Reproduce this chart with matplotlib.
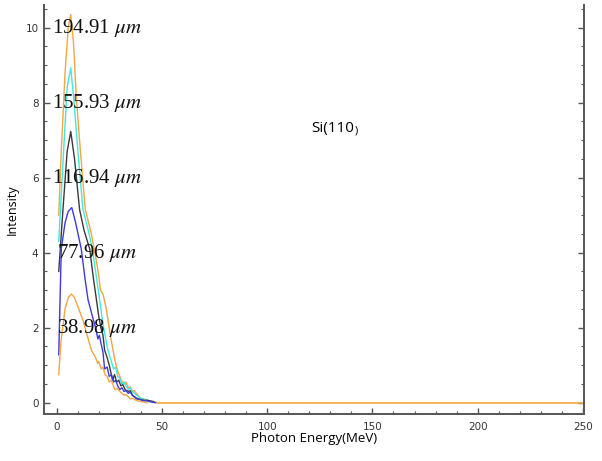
import matplotlib
matplotlib.use("Agg")
import matplotlib.pyplot as plt
from matplotlib.ticker import MultipleLocator

plt.rcParams["mathtext.fontset"] = "stix"

# thickness labels and curves
labels = ["194.91", "155.93", "116.94", "77.96", "38.98"]
label_x = [-2.4, -2.4, -2.4, 0.0, 0.0]
label_y = [10.0, 8.0, 6.0, 4.0, 2.0]
colors = ["#f5a542", "#40e8e0", "#3a3a3a", "#3b3be0", "#f5a542"]

x_194 = [1, 2.2, 4, 5.5, 6.7, 8, 9.4, 11.3, 13.6, 16.5, 18.5, 20, 20.8, 22, 23.6, 25.5, 27.6, 29, 30.7,
         32, 33, 34, 35, 36, 37, 38.5, 40, 41.5, 43, 46, 48]
y_194 = [5.0, 6.7, 8.8, 10.0, 10.35, 9.6, 8.1, 6.7, 5.15, 4.5, 3.9, 3.4, 3.0, 2.9, 2.5, 1.8, 1.15, 0.85, 0.6,
         0.5, 0.55, 0.4, 0.42, 0.3, 0.32, 0.2, 0.12, 0.1, 0.06, 0.03, 0.0]

x_155 = [1, 3.3, 5, 6.7, 8.3, 10.1, 12.5, 15, 17, 19, 20.4, 22, 24.3, 26, 27, 28, 29, 30, 31, 32, 33, 34,
         35, 36, 38, 40, 41, 43, 44, 46]
y_155 = [4.3, 6.7, 8.4, 8.93, 8.0, 6.7, 5.15, 4.6, 4.1, 3.3, 2.75, 2.1, 1.4, 1.1, 0.9, 0.95, 0.7, 0.65, 0.5,
         0.55, 0.45, 0.35, 0.4, 0.3, 0.2, 0.12, 0.1, 0.06, 0.05, 0.02]

x_116 = [1, 3, 5, 6.7, 8.5, 10.9, 13, 15.7, 17.5, 18.9, 20, 21, 22, 22.8, 24, 25, 26.6, 27.5, 28.5, 29.5,
         30.5, 31.5, 32.5, 34, 35, 36, 38, 39, 40, 42, 43, 45, 46]
y_116 = [3.5, 5.15, 6.7, 7.23, 6.5, 5.15, 4.6, 4.1, 3.3, 2.75, 2.3, 2.0, 1.8, 1.4, 1.2, 1.0, 0.6, 0.75, 0.55,
         0.6, 0.45, 0.48, 0.35, 0.3, 0.32, 0.2, 0.12, 0.1, 0.08, 0.06, 0.07, 0.04, 0.03]

x_77 = [1, 2.2, 4, 5.5, 7.2, 9, 11.7, 13.5, 14.9, 17, 18.5, 19.6, 20.3, 21, 22, 22.8, 24, 25, 26, 27, 28,
        29, 30, 31, 32, 33, 34, 35, 36, 38, 40, 41, 43, 44, 47]
y_77 = [1.28, 4.1, 4.8, 5.1, 5.2, 4.8, 4.1, 3.3, 2.75, 2.3, 2.0, 1.7, 1.8, 1.6, 1.35, 0.9, 0.95, 0.7, 0.75,
        0.55, 0.6, 0.45, 0.35, 0.4, 0.3, 0.32, 0.25, 0.28, 0.2, 0.1, 0.08, 0.05, 0.05, 0.03, 0.0]

x_38 = [1, 2, 4, 5.5, 7, 8.5, 10.5, 12.5, 14.5, 16.5, 18.5, 19.5, 20, 21.2, 22, 23, 24, 25, 26, 27.6, 29,
        30, 31, 32, 33, 35, 36, 38, 40, 43]
y_38 = [0.75, 1.6, 2.5, 2.8, 2.9, 2.8, 2.5, 2.2, 1.8, 1.4, 1.2, 1.05, 1.1, 0.9, 0.95, 0.75, 0.7, 0.55, 0.6,
        0.35, 0.38, 0.3, 0.25, 0.2, 0.22, 0.1, 0.12, 0.06, 0.03, 0.0]

tail_x = [48, 250]
tail_y = [0.0, 0.0]

series_x = [x_194, x_155, x_116, x_77, x_38]
series_y = [y_194, y_155, y_116, y_77, y_38]

fig = plt.figure(figsize=(6.02, 4.61), dpi=100)
ax = fig.add_axes([0.0731, 0.102, 0.897, 0.887])

for xs, ys, c in zip(series_x, series_y, colors):
    ax.plot(xs, ys, color=c, lw=1.0)
ax.plot(tail_x, tail_y, color=colors[0], lw=1.2)

for lab, lx, ly in zip(labels, label_x, label_y):
    ax.text(lx, ly, lab + r" $\mu m$", fontsize=15, family="Liberation Serif",
            va="center", ha="left", color="#111111")

ax.text(121, 7.3, "Si(110", fontsize=11, family="Open Sans", va="center", ha="left")
ax.text(141.5, 7.25, ")", fontsize=8, family="Open Sans", va="center", ha="left")

ax.set_xlim(-6, 250.5)
ax.set_ylim(-0.3, 10.6)
ax.set_xticks([0, 50, 100, 150, 200, 250])
ax.set_yticks([0, 2, 4, 6, 8, 10])
ax.xaxis.set_minor_locator(MultipleLocator(10))
ax.yaxis.set_minor_locator(MultipleLocator(0.5))

ax.spines["top"].set_visible(False)
for s in ["left", "bottom", "right"]:
    ax.spines[s].set_color("#555555")
    ax.spines[s].set_linewidth(1.4)

ax.tick_params(which="both", direction="in", colors="#555555", labelcolor="#333333",
               labelsize=7.5, right=True, top=False)
ax.tick_params(which="major", length=4, width=1.0)
ax.tick_params(which="minor", length=2.5, width=0.8)
ax.tick_params(axis="x", pad=6)
ax.tick_params(axis="y", pad=4)

ax.set_xlabel("Photon Energy(MeV)", fontsize=9.5, family="Open Sans")
ax.xaxis.set_label_coords(0.5, -0.045)
ax.set_ylabel("Intensity", fontsize=9, family="Open Sans")
ax.yaxis.set_label_coords(-0.046, 0.5)

fig.savefig("out.png", dpi=100)
